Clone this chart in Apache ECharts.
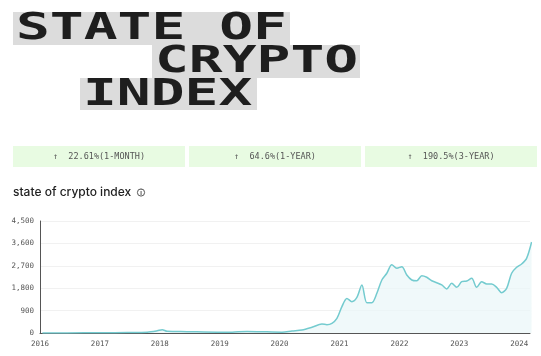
<!DOCTYPE html>
<html><head><meta charset="utf-8">
<script src="https://cdn.jsdelivr.net/npm/echarts@6/dist/echarts.min.js"></script>
<style>html,body{margin:0;padding:0;background:#fff}#c{width:541px;height:356px}</style>
</head><body><div id="c"></div>
<script>
// ---- data ----
const dates = ['2016-01','2016-06','2017-01','2017-06','2017-10','2017-12','2018-01','2018-02','2018-06','2018-12','2019-03','2019-06','2019-09','2019-11',
 '2020-01','2020-03','2020-05','2020-07','2020-09','2020-10','2020-11','2020-12','2021-01','2021-02','2021-03','2021-04','2021-05','2021-06','2021-07','2021-08','2021-09','2021-10','2021-11','2021-12',
 '2022-01','2022-02','2022-03','2022-04','2022-05','2022-06','2022-07','2022-08','2022-09','2022-10','2022-11','2022-12','2023-01','2023-02','2023-03','2023-04','2023-05','2023-06','2023-07','2023-08','2023-09','2023-10','2023-11','2023-12','2024-01','2024-02','2024-03'];
const values = [2,4,8,20,35,90,135,70,55,30,35,65,55,40,
 35,80,120,230,360,335,390,590,1060,1390,1260,1430,1930,1220,1220,1595,2130,2400,2745,2600,
 2665,2330,2130,2100,2300,2240,2100,2020,1930,1770,1995,1835,2060,2090,2200,1835,2060,1970,1970,1835,1620,1795,2400,2640,2770,3000,3655];
const yTicks = [0,900,1800,2700,3600,4500];
const xYears = [2016,2017,2018,2019,2020,2021,2022,2023,2024];
const titleLines = ['STATE OF','CRYPTO','INDEX'];
const stats = ['↑  22.61%(1-MONTH)','↑  64.6%(1-YEAR)','↑  190.5%(3-YEAR)'];
const subtitle = 'state of crypto index';

function toYear(s){const p=s.split('-');return (+p[0])+((+p[1])-1)/12+0.04;}
const seriesData = dates.map((d,i)=>[toYear(d),values[i]]);

const chart = echarts.init(document.getElementById('c'),null,{renderer:'canvas'});
const mono = '"DejaVu Sans Mono", monospace';
const titlePos = [{x:13,y:12,w:277,h:33},{x:152,y:45,w:208,h:33},{x:80,y:78,w:177,h:32}];
const graphics = [];
titleLines.forEach((t,i)=>{
  const p=titlePos[i];
  graphics.push({type:'rect',shape:{x:p.x,y:p.y,width:p.w,height:p.h},style:{fill:'#dcdcdc'},z:1});
  graphics.push({type:'text',x:p.x+3,y:p.y+p.h/2+1,scaleX:1.52,style:{text:t,font:'bold 37px '+mono,fill:'#1e1e1e',verticalAlign:'middle',align:'left'},z:2});
});
const boxX=[13,189,365];
stats.forEach((s,i)=>{
  graphics.push({type:'rect',shape:{x:boxX[i],y:146,width:172,height:21},style:{fill:'#e8fbe2'},z:1});
  graphics.push({type:'text',x:boxX[i]+86,y:157,style:{text:s,font:'normal 8.5px '+mono,fill:'#555',align:'center',verticalAlign:'middle'},z:2});
});
graphics.push({type:'text',x:13,y:192,style:{text:subtitle,font:'500 12px Inter, sans-serif',fill:'#222',verticalAlign:'middle'},z:2});
graphics.push({type:'circle',shape:{cx:141,cy:192.5,r:3.6},style:{fill:'none',stroke:'#444',lineWidth:0.9},z:2});
graphics.push({type:'text',x:141,y:193,style:{text:'i',font:'bold 6px Inter, sans-serif',fill:'#444',align:'center',verticalAlign:'middle'},z:2});

chart.setOption({
  animation:false,
  graphic:graphics,
  grid:{left:40,right:11,top:221,bottom:23,containLabel:false},
  xAxis:{type:'value',min:xYears[0],max:2024.18,interval:1,
    axisLine:{show:true,lineStyle:{color:'#555',width:1}},
    axisTick:{show:false},splitLine:{show:false},
    axisLabel:{margin:7,color:'#555',fontFamily:mono,fontSize:7.5,
      formatter:v=>xYears.indexOf(v)>=0?String(v):''}},
  yAxis:{type:'value',min:yTicks[0],max:yTicks[yTicks.length-1],interval:900,
    axisLine:{show:true,lineStyle:{color:'#555',width:1}},
    axisTick:{show:false},
    splitLine:{lineStyle:{color:'#f1f1f1'}},
    axisLabel:{margin:6,color:'#555',fontFamily:mono,fontSize:7.5,
      formatter:v=>v.toLocaleString('en-US')}},
  series:[{type:'line',data:seriesData,smooth:0.3,showSymbol:false,
    lineStyle:{color:'#74cbcf',width:1.5},
    areaStyle:{color:'#e9f6f8'}}]
});
</script></body></html>
